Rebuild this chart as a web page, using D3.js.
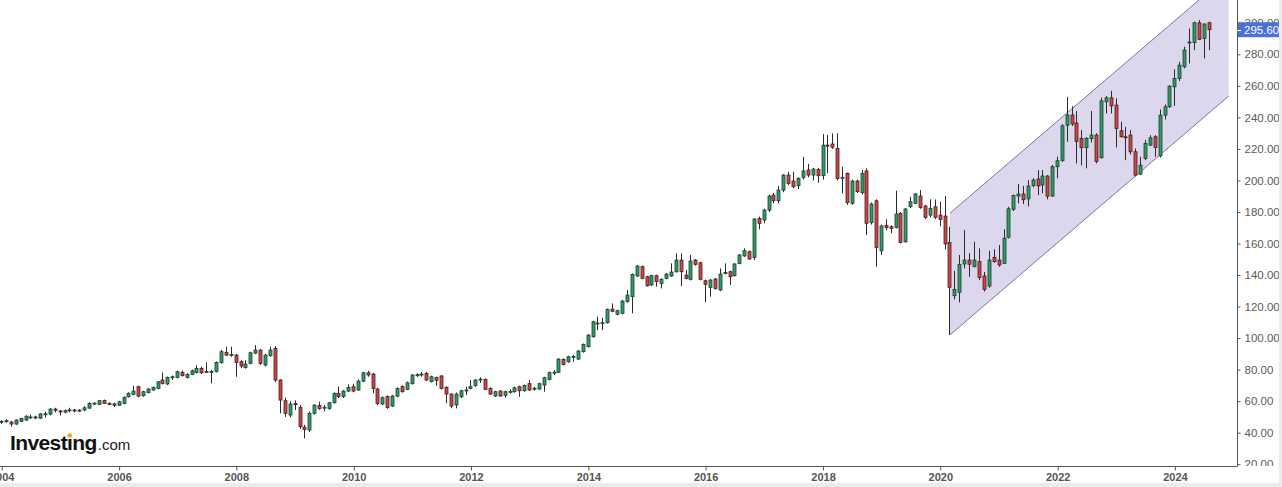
<!DOCTYPE html>
<html><head><meta charset="utf-8">
<script src="https://cdn.jsdelivr.net/npm/d3@7"></script>
<style>html,body{margin:0;padding:0;background:#fff;} svg{display:block;}</style>
</head><body>
<svg id="c" width="1282" height="487"></svg>
<script>
// ---- DATA (monthly candles, Jan 2004 .. Aug 2024) ----
const firstMonth = "2004-01-01";
const lastMonthExclusive = "2024-09-01";
const open = [
46.8,47.0,46.8,45.5,47.2,48.0,49.8,50.0,49.2,51.8,51.8,55.0,
53.8,53.0,54.0,54.4,54.0,54.4,55.6,58.2,58.0,60.4,58.6,58.3,
57.4,58.5,62.8,64.3,69.2,63.5,65.4,67.1,68.1,73.4,70.9,75.0,
75.1,78.3,75.1,77.0,78.2,80.8,78.5,78.6,78.8,84.4,91.0,89.3,
89.2,85.0,81.4,84.0,90.5,92.4,82.9,88.8,93.5,73.4,60.3,51.2,
58.6,56.0,43.5,41.7,52.3,57.3,56.0,55.4,59.0,65.0,62.9,66.4,
69.2,67.1,72.7,78.0,77.2,67.7,58.2,62.9,56.9,63.2,69.2,67.5,
71.1,76.4,76.6,77.6,72.4,75.1,76.0,68.8,64.5,57.6,62.8,66.6,
68.0,69.8,73.6,73.8,68.1,63.3,66.4,63.7,65.8,66.0,69.2,66.6,
71.1,67.7,67.7,70.2,73.8,78.0,78.3,86.5,85.0,88.0,86.7,91.4,
94.6,100.9,109.2,109.4,109.8,118.4,115.1,115.7,123.1,126.3,139.4,145.3,
138.9,133.7,139.6,134.7,137.9,139.4,142.1,149.5,140.0,137.3,149.5,147.8,
136.4,132.2,137.5,130.5,141.2,142.1,139.6,147.4,152.1,154.8,151.2,175.9,
174.9,181.2,190.7,187.1,193.9,203.4,199.6,196.7,201.9,206.6,203.4,207.0,
203.0,222.4,223.1,220.3,201.5,204.5,185.5,199.6,192.2,206.0,173.2,187.1,
155.4,171.5,170.7,170.2,179.1,161.1,183.3,185.5,190.1,183.8,178.0,183.3,
178.0,177.4,160.7,126.9,129.0,147.0,149.5,145.3,148.5,139.4,133.0,151.2,
149.5,147.4,163.9,181.7,190.1,191.4,188.3,196.7,200.9,197.1,202.8,190.1,
208.7,212.5,235.0,241.5,236.4,226.7,220.8,226.5,228.8,214.4,249.9,252.4,
247.8,231.5,227.7,228.7,218.2,204.0,213.9,222.4,227.7,215.6,241.4,246.7,
259.4,264.7,272.1,287.4,287.4,300.0,290.1,300.0];
const high = [
48.0,48.6,47.5,48.5,49.5,51.0,51.5,50.8,52.5,53.2,55.6,55.8,
54.4,54.8,55.8,55.1,55.0,56.8,59.4,59.2,60.8,61.0,59.3,59.0,
60.2,63.0,65.6,69.8,69.8,66.6,68.3,69.3,72.8,78.2,75.6,76.3,
79.3,79.4,77.8,80.0,82.8,81.8,84.6,79.8,85.2,92.5,94.4,94.6,
90.0,86.0,86.0,91.3,95.6,93.0,90.0,94.6,95.0,74.0,62.2,60.0,
60.5,57.5,45.0,53.5,58.0,59.6,57.5,59.6,65.5,69.2,67.0,70.6,
71.0,73.8,78.6,79.2,78.0,68.5,63.0,63.6,64.0,68.8,70.0,72.4,
77.2,77.8,78.5,78.5,76.2,75.5,76.5,69.5,65.0,65.5,67.2,69.2,
73.4,74.0,75.1,74.5,68.8,66.6,67.0,66.6,67.5,69.2,69.8,70.6,
73.4,69.2,71.7,75.5,78.8,79.7,87.3,87.2,88.8,89.3,92.4,96.6,
102.5,111.0,113.6,112.9,118.8,122.0,118.0,124.1,130.5,141.0,146.3,146.0,
139.5,140.2,140.2,137.9,141.2,147.4,153.7,153.7,143.2,152.7,150.2,148.4,
137.0,137.5,138.1,144.2,147.4,142.7,147.6,153.3,156.9,155.5,176.0,177.0,
182.0,191.0,192.0,196.5,204.0,205.5,205.5,202.0,215.0,210.5,208.0,208.0,
229.4,228.8,229.8,229.8,208.7,205.0,200.5,200.5,206.6,207.6,186.0,188.0,
172.0,175.3,171.5,193.5,180.0,182.5,189.7,192.0,193.9,184.5,188.0,187.9,
186.5,190.1,170.6,142.7,152.7,168.5,153.8,161.1,156.9,142.0,155.4,156.3,
159.0,169.0,183.3,191.0,197.7,196.5,200.2,201.3,206.6,206.6,203.4,209.8,
215.1,235.8,253.0,247.0,244.0,232.0,227.5,244.0,229.9,252.6,253.5,256.8,
252.0,237.2,234.0,231.9,220.3,215.0,225.6,228.7,228.7,245.0,248.2,260.4,
270.4,275.2,284.8,296.4,300.7,301.7,299.6,300.7];
const low = [
45.6,46.4,43.8,45.0,46.8,47.6,48.8,48.5,48.8,49.6,51.0,52.8,
50.9,52.3,52.8,52.8,53.2,53.6,55.2,57.6,57.7,58.2,57.6,56.3,
56.9,58.0,62.3,63.8,62.5,62.8,65.0,66.5,67.6,70.6,70.3,73.5,
74.5,75.6,74.3,76.5,77.6,77.2,78.0,71.3,78.2,83.8,88.6,88.2,
75.5,81.0,80.6,83.4,89.8,83.0,82.0,88.2,72.0,52.3,50.0,49.8,
54.4,42.5,36.4,40.5,51.5,54.5,53.5,54.6,58.5,62.0,62.0,65.8,
65.6,66.5,72.0,75.5,65.0,57.4,57.5,55.2,56.3,62.5,65.4,67.0,
70.5,75.4,75.5,72.8,71.8,69.8,67.5,58.6,55.5,55.4,62.0,63.9,
67.5,69.2,71.7,67.0,63.9,62.6,62.8,62.4,64.8,65.4,62.8,66.0,
66.5,66.6,67.2,66.0,73.2,76.6,77.8,82.7,84.3,85.0,86.0,90.8,
94.0,100.2,105.1,105.1,109.2,116.4,114.5,115.1,122.5,115.7,138.8,137.3,
132.6,133.0,132.6,131.5,137.3,138.8,141.5,133.0,137.2,136.6,146.0,136.6,
122.7,126.3,130.8,129.8,140.4,133.7,139.0,146.8,151.5,149.6,149.5,169.0,
172.8,180.0,185.5,185.5,192.5,197.0,195.0,194.5,200.5,202.0,200.0,198.5,
200.5,204.5,220.0,200.0,191.8,184.5,184.5,192.0,191.0,165.4,172.0,145.3,
152.7,168.5,166.5,169.5,160.0,160.5,182.5,185.0,182.0,175.5,176.5,175.5,
171.0,156.3,102.0,124.5,122.7,144.2,138.9,144.9,136.8,129.5,132.0,147.8,
145.3,147.0,163.2,180.6,185.5,185.0,183.5,195.6,190.8,191.8,188.0,189.7,
201.3,211.9,224.6,234.5,210.8,209.5,207.7,224.0,210.8,213.9,242.5,242.5,
220.9,227.3,212.9,216.5,202.5,203.4,212.9,221.8,215.0,214.6,238.7,246.0,
247.3,263.0,271.1,274.2,282.7,289.0,277.4,282.7];
const close = [
47.2,47.6,45.5,48.0,49.0,50.5,50.0,49.4,51.9,52.0,55.0,54.2,
53.2,54.0,54.5,53.9,54.3,55.8,58.5,58.8,60.3,58.6,58.2,57.4,
59.6,62.4,65.0,66.4,63.2,66.0,67.7,68.7,72.3,71.3,75.1,75.5,
78.7,76.2,77.0,79.3,80.8,78.0,78.8,78.8,84.6,91.4,89.2,89.6,
84.5,82.3,83.5,90.7,92.4,84.0,89.2,92.4,73.4,60.7,52.3,58.2,
57.8,43.8,42.0,52.3,57.5,55.4,56.2,59.0,65.0,62.9,66.4,68.7,
66.4,72.7,78.0,76.6,68.1,58.6,62.2,56.0,63.3,68.1,66.0,71.7,
76.6,76.8,77.2,73.4,75.5,73.2,68.1,64.5,56.9,64.5,66.6,67.1,
69.2,73.4,74.0,67.5,64.5,66.0,63.3,66.0,66.2,68.5,66.6,70.0,
67.1,68.2,71.1,74.9,78.1,78.4,86.7,83.3,88.2,88.4,91.8,96.0,
101.9,110.4,109.6,109.8,118.2,117.0,117.4,123.5,127.3,140.4,145.7,137.9,
133.2,139.6,135.8,137.3,140.6,141.9,149.5,142.1,137.9,148.9,146.8,137.3,
134.1,136.8,131.5,140.6,141.6,138.9,147.0,152.7,155.4,150.2,175.5,172.8,
181.2,190.1,187.1,193.9,203.4,198.1,196.0,201.3,206.0,203.4,207.2,203.0,
222.4,222.0,221.0,201.3,202.0,185.9,199.6,192.9,204.5,172.8,185.0,157.5,
171.1,170.0,169.6,178.7,160.7,181.9,186.5,191.4,182.9,176.6,182.3,176.6,
175.3,159.7,132.2,130.9,146.8,149.5,146.8,149.5,138.5,130.9,149.5,148.5,
146.4,163.3,182.0,190.4,191.4,187.8,196.4,200.3,196.5,202.8,190.0,208.7,
212.5,234.6,241.5,235.8,224.7,220.8,226.7,228.8,212.0,250.5,252.4,247.3,
233.0,227.7,227.3,218.2,203.4,209.7,223.5,227.0,220.9,241.4,246.7,259.8,
264.7,273.1,282.7,287.8,300.0,289.5,299.2,295.6];

const yTickValues = [20,40,60,80,100,120,140,160,180,200,220,240,260,280,300];
const xTickYears = ["2004","2006","2008","2010","2012","2014","2016","2018","2020","2022","2024"];
const lastPrice = 295.60;
const channelDates = ["2020-03-01","2024-12-01"];
const channelLower = [102.0, 253.5];
const channelUpper = [179.2, 330.6];

// ---- LAYOUT ----
const plotRight = 1237, plotBottom = 466;
const parse = d3.utcParse("%Y-%m-%d");
const x = d3.scaleUtc().domain([parse("2004-01-01"), parse("2024-01-01")]).range([1.7, 1174.9]);
const y = d3.scaleLinear().domain([40, 280]).range([432.7, 54.3]);
const months = d3.utcMonth.range(parse(firstMonth), parse(lastMonthExclusive));

const svg = d3.select("#c");
const defs = svg.append("defs");
defs.append("clipPath").attr("id","plotClip").append("rect").attr("x",0).attr("y",0).attr("width",plotRight).attr("height",plotBottom);
defs.append("clipPath").attr("id","yClip").append("rect").attr("x",plotRight).attr("y",0).attr("width",60).attr("height",plotBottom);

svg.append("rect").attr("width",1282).attr("height",487).attr("fill","#fff");

const plot = svg.append("g").attr("clip-path","url(#plotClip)");

// channel
const c0 = parse(channelDates[0]), c1 = parse(channelDates[1]);
const poly = [[x(c0), y(channelLower[0])],[x(c1), y(channelLower[1])],[x(c1), y(channelUpper[1])],[x(c0), y(channelUpper[0])]];
plot.append("path").attr("d","M"+poly.map(p=>p.join(",")).join("L")+"Z").attr("fill","#dcd7ec");
plot.append("line").attr("x1",x(c0)).attr("y1",y(channelLower[0])).attr("x2",x(c1)).attr("y2",y(channelLower[1])).attr("stroke","#7e72aa").attr("stroke-width",1);
plot.append("line").attr("x1",x(c0)).attr("y1",y(channelUpper[0])).attr("x2",x(c1)).attr("y2",y(channelUpper[1])).attr("stroke","#7e72aa").attr("stroke-width",1);

// candles
const data = months.map((d,i)=>({d, o:open[i], h:high[i], l:low[i], c:close[i]}));
const cg = plot.append("g");
const cand = cg.selectAll("g.cd").data(data).join("g").attr("class","cd");
cand.append("line")
  .attr("x1",d=>Math.floor(x(d.d))+0.5).attr("x2",d=>Math.floor(x(d.d))+0.5)
  .attr("y1",d=>y(d.h)).attr("y2",d=>y(d.l))
  .attr("stroke","#2b2b2b").attr("stroke-width",1);
cand.append("rect")
  .attr("x",d=>Math.floor(x(d.d))-1)
  .attr("width",3)
  .attr("y",d=>y(Math.max(d.o,d.c)))
  .attr("height",d=>Math.max(1, Math.abs(y(d.o)-y(d.c))))
  .attr("fill",d=>d.c>=d.o ? "#2f9a6a" : "#c64848")
  .attr("stroke",d=>d.c>=d.o ? "#1d3f2f" : "#4e1c1c")
  .attr("stroke-width",0.8);

// axes lines
svg.append("line").attr("x1",plotRight+0.5).attr("x2",plotRight+0.5).attr("y1",0).attr("y2",plotBottom+0.5).attr("stroke","#555");
svg.append("line").attr("x1",0).attr("x2",plotRight+0.5).attr("y1",plotBottom+0.5).attr("y2",plotBottom+0.5).attr("stroke","#555");

// y axis
const yAxis = d3.axisRight(y).tickValues(yTickValues).tickFormat(d3.format(".2f")).tickSize(3).tickPadding(4);
const yg = svg.append("g").attr("transform",`translate(${plotRight+0.5},0)`).attr("clip-path","url(#yClip)").call(yAxis);
yg.select(".domain").remove();
yg.selectAll(".tick line").attr("stroke","#555");
yg.selectAll(".tick text").attr("fill","#5a5a5a").style("font-family","'Liberation Sans', Arial, sans-serif").style("font-size","11.5px");
// fix clip offset (group is translated)
d3.select("#yClip rect").attr("x",-1).attr("width",60);

// x axis
const xAxis = d3.axisBottom(x).tickValues(xTickYears.map(s=>parse(s+"-01-01"))).tickFormat(d3.utcFormat("%Y")).tickSize(4).tickPadding(3);
const xg = svg.append("g").attr("transform",`translate(0,${plotBottom+0.5})`).call(xAxis);
xg.select(".domain").remove();
xg.selectAll(".tick line").attr("stroke","#555");
xg.selectAll(".tick text").attr("fill","#555").style("font-family","'Liberation Sans', Arial, sans-serif").style("font-size","11px").style("font-weight","bold");

// last price label
const py = y(lastPrice);
svg.append("rect").attr("x",plotRight+1).attr("y",py-7.5).attr("width",42).attr("height",15).attr("fill","#4b72d4");
svg.append("line").attr("x1",plotRight).attr("x2",plotRight+4).attr("y1",Math.round(py)+0.5).attr("y2",Math.round(py)+0.5).attr("stroke","#fff");
svg.append("text").attr("x",plotRight+7).attr("y",py).attr("dy","0.35em").attr("fill","#fff")
  .style("font-family","'Liberation Sans', Arial, sans-serif").style("font-size","11.5px").text(d3.format(".2f")(lastPrice));

// frame
svg.append("rect").attr("x",0).attr("y",483).attr("width",1282).attr("height",4).attr("fill","#ececec");
svg.append("rect").attr("x",1279).attr("y",0).attr("width",3).attr("height",487).attr("fill","#ececec");

// logo
const logo = svg.append("text").attr("x",10).attr("y",450).style("font-family","'Liberation Sans', Arial, sans-serif");
logo.append("tspan").text("Investı").style("font-size","21px").style("font-weight","bold").style("letter-spacing","-0.6px").attr("fill","#111");
logo.append("tspan").text("ng").style("font-size","21px").style("font-weight","bold").style("letter-spacing","-0.6px").attr("fill","#111");
logo.append("tspan").text(".com").style("font-size","15px").attr("fill","#222").attr("dx","1");
const node = logo.node();
const ip = node.getStartPositionOfChar(6);
const ie = node.getEndPositionOfChar(6);
svg.append("circle").attr("cx",(ip.x+ie.x)/2).attr("cy",435.5).attr("r",2.3).attr("fill","#f4a71d");
</script>
</body></html>
